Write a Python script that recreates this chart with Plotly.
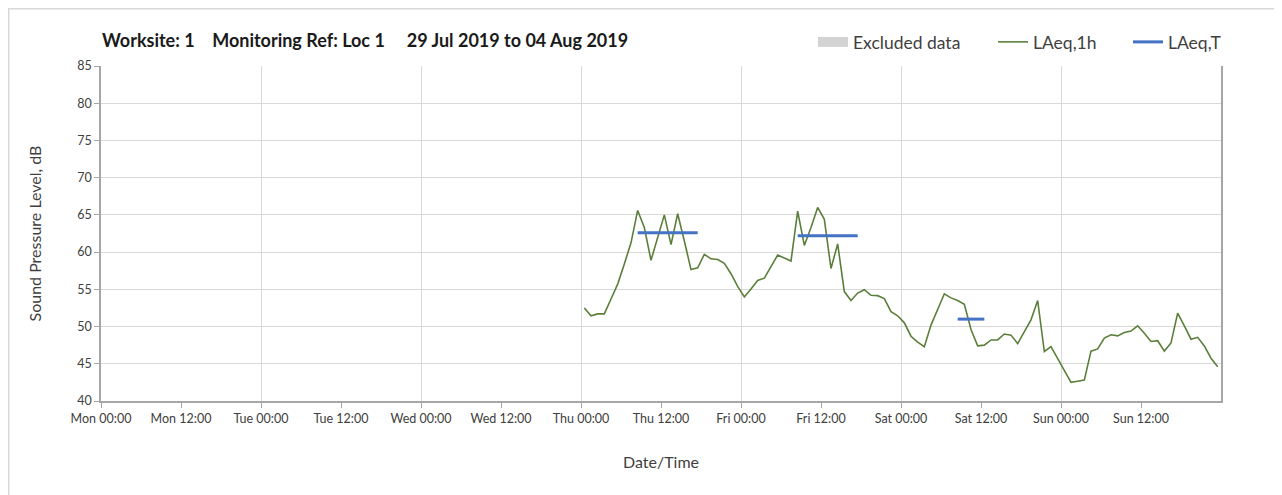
import pandas as pd
import plotly.graph_objects as go

# ---- data ----
start_time = "2019-08-01 00:30"
laeq_1h = [52.5, 51.45, 51.7, 51.7, 53.7, 55.7, 58.4, 61.25, 65.6, 63.3,
           58.9, 61.9, 65.0, 61.0, 65.15, 61.5, 57.65, 57.9, 59.7, 59.1,
           59.0, 58.5, 57.1, 55.4,
           53.97, 55.05, 56.2, 56.5, 58.1, 59.6, 59.2, 58.8, 65.5, 60.9,
           63.3, 66.0, 64.4, 57.8, 61.1, 54.7, 53.5, 54.5, 54.95, 54.2,
           54.15, 53.75, 52.0, 51.45,
           50.5, 48.7, 47.9, 47.3, 50.2, 52.3, 54.4, 53.85, 53.5, 53.0,
           49.6, 47.4, 47.5, 48.2, 48.2, 49.0, 48.85, 47.7, 49.35, 50.9,
           53.5, 46.65, 47.3, 45.75,
           44.2, 42.5, 42.65, 42.8, 46.7, 47.0, 48.45, 48.9, 48.75, 49.2,
           49.4, 50.1, 49.1, 48.0, 48.1, 46.7, 47.8, 51.8, 50.1, 48.3,
           48.55, 47.4, 45.75, 44.6]
lt_start = ["2019-08-01 08:30", "2019-08-02 08:30", "2019-08-03 08:30"]
lt_end = ["2019-08-01 17:30", "2019-08-02 17:30", "2019-08-03 12:30"]
lt_value = [62.6, 62.2, 51.0]

tick_times = pd.date_range("2019-07-29 00:00", periods=14, freq="12h")
tick_labels = ["Mon 00:00", "Mon 12:00", "Tue 00:00", "Tue 12:00",
               "Wed 00:00", "Wed 12:00", "Thu 00:00", "Thu 12:00",
               "Fri 00:00", "Fri 12:00", "Sat 00:00", "Sat 12:00",
               "Sun 00:00", "Sun 12:00"]
day_lines = pd.date_range("2019-07-29 00:00", periods=8, freq="24h")
x_range = ["2019-07-29 00:00", "2019-08-05 00:00"]

times = pd.date_range(start_time, periods=len(laeq_1h), freq="h")

lt_x, lt_y = [], []
for s, e, v in zip(lt_start, lt_end, lt_value):
    lt_x += [s, e, None]
    lt_y += [v, v, None]

FONT = "Lato, 'Open Sans', sans-serif"
GRID = "#d9d9d9"
AXIS = "#a6a6a6"
TXT = "#404040"
# page has an 8px body margin; size the figure so the plot lands in place
W, H = 1274, 487
ML, MR, MT, MB = 93, 61, 58, 94
PW, PH = W - ML - MR, H - MT - MB


def px(page_x):
    return (page_x - 8 - ML) / PW


def py_above(page_y):
    return 1 + (MT - (page_y - 8)) / PH


fig = go.Figure()
fig.add_trace(go.Scatter(x=[None], y=[None], mode="lines", name="Excluded data",
                         line=dict(color="#d3d3d3", width=10), legend="legend"))
fig.add_trace(go.Scatter(x=times, y=laeq_1h, mode="lines", name="LAeq,1h",
                         line=dict(color="#5b7f3b", width=1.6), legend="legend2"))
fig.add_trace(go.Scatter(x=lt_x, y=lt_y, mode="lines", name="LAeq,T",
                         line=dict(color="#4472c4", width=3), legend="legend3"))
# helper trace for the day gridline axis
fig.add_trace(go.Scatter(x=[None], y=[None], xaxis="x2", showlegend=False,
                         hoverinfo="skip"))

leg_common = dict(orientation="h", xanchor="left", yanchor="middle",
                  y=py_above(42), font=dict(size=17.5, color=TXT),
                  itemwidth=30, bgcolor="rgba(0,0,0,0)")

fig.update_layout(
    width=W, height=H,
    margin=dict(l=ML, r=MR, t=MT, b=MB, autoexpand=False),
    paper_bgcolor="white", plot_bgcolor="white",
    font=dict(family=FONT, color=TXT),
    showlegend=True,
    legend=dict(x=px(813), **leg_common),
    legend2=dict(x=px(993), **leg_common),
    legend3=dict(x=px(1128), **leg_common),
    xaxis=dict(type="date", range=x_range, tickvals=tick_times, ticktext=tick_labels,
               showgrid=False, ticks="outside", ticklen=5, tickcolor=AXIS,
               showline=True, linecolor=AXIS, linewidth=1.5, mirror=False,
               automargin=False,
               tickfont=dict(size=12.5, color=TXT),
               title=dict(text="Date/Time", font=dict(size=16, color=TXT),
                          standoff=32)),
    xaxis2=dict(type="date", range=x_range, overlaying="x", tickvals=day_lines,
                showticklabels=False, ticks="", showgrid=True, gridcolor=GRID,
                gridwidth=1, showline=False, zeroline=False, automargin=False),
    yaxis=dict(range=[40, 85], dtick=5, showgrid=True, gridcolor=GRID, gridwidth=1.2,
               ticks="outside", ticklen=5, tickcolor=AXIS, zeroline=False,
               showline=True, linecolor=AXIS, linewidth=1.5, mirror=True,
               automargin=False,
               tickfont=dict(size=12.5, color=TXT),
               title=dict(text="Sound Pressure Level, dB",
                          font=dict(size=16, color=TXT), standoff=32)),
)

# chart frame (top-left corner of the slide box)
fig.add_shape(type="rect", xref="paper", yref="paper",
              x0=(0.75 - ML) / PW, x1=1.2, y0=-0.5, y1=1 + (MT - 0.75) / PH,
              line=dict(color="#d9d9d9", width=1.5), layer="below")

fig.add_annotation(xref="paper", yref="paper", x=px(100), y=py_above(40),
                   xanchor="left", yanchor="middle", showarrow=False,
                   text="<b>Worksite: 1&nbsp;&nbsp;&nbsp;&nbsp;Monitoring Ref: Loc 1&nbsp;&nbsp;&nbsp;&nbsp;&nbsp;29 Jul 2019 to 04 Aug 2019</b>",
                   font=dict(size=18, color="#1a1a1a", family=FONT))

fig.write_html("out.html")
